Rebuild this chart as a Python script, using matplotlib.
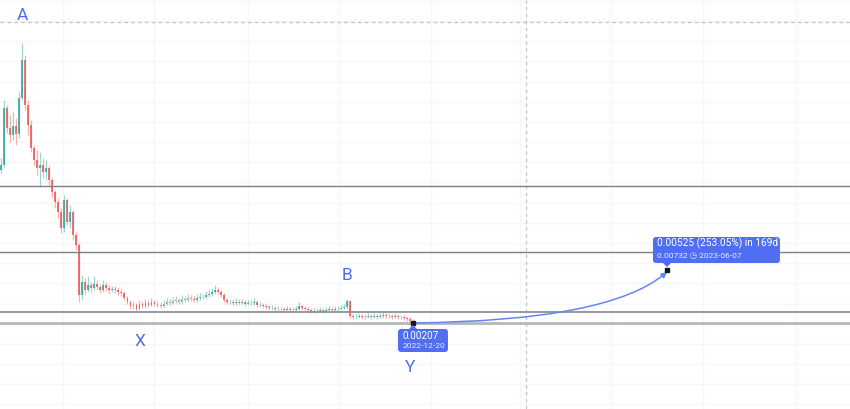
import numpy as np
import pandas as pd
import matplotlib
matplotlib.use("Agg")
import matplotlib.pyplot as plt
import matplotlib.dates as mdates
from matplotlib.patches import FancyBboxPatch, Polygon, FancyArrowPatch
from matplotlib.path import Path
from matplotlib.transforms import IdentityTransform

plt.rcParams['font.family'] = ['Roboto', 'DejaVu Sans']

# ---- price data: 2-day candles ----
dates = pd.date_range('2022-03-21', periods=138, freq='2D')
first_open = 0.01723
closes = [
    .01773, .02338, .02139, .02070, .02159, .02080, .02437, .02813, .02367, .02169,
    .01941, .01822, .01743, .01773, .01703, .01743, .01624, .01505, .01406, .01307,
    .01148, .01426, .01208, .01307, .01079, .00980, .00485, .00613, .00534, .00584,
    .00554, .00594, .00564, .00534, .00584, .00554, .00534, .00544, .00534, .00514,
    .00504, .00455, .00415, .00376, .00385, .00346, .00395, .00376, .00405, .00385,
    .00415, .00395, .00385, .00376, .00395, .00415, .00405, .00425, .00435, .00415,
    .00445, .00435, .00455, .00445, .00435, .00455, .00465, .00465, .00485, .00494,
    .00514, .00534, .00514, .00485, .00435, .00415, .00415, .00405, .00415, .00405,
    .00415, .00395, .00405, .00405, .00415, .00385, .00385, .00376, .00366, .00356,
    .00356, .00346, .00346, .00346, .00336, .00346, .00336, .00336, .00346, .00376,
    .00356, .00346, .00336, .00326, .00326, .00326, .00336, .00326, .00336, .00346,
    .00336, .00346, .00346, .00356, .00366, .00425, .00276, .00267, .00267, .00276,
    .00267, .00267, .00276, .00267, .00276, .00267, .00276, .00286, .00276, .00276,
    .00267, .00276, .00267, .00267, .00257, .00247, .00227, .00217,
]
highs = [
    .01842, .02417, .02367, .02268, .02298, .02239, .02496, .02982, .02863, .02417,
    .02219, .01971, .01921, .01902, .01842, .01822, .01773, .01644, .01525, .01446,
    .01347, .01475, .01446, .01376, .01327, .01109, .01000, .00683, .00653, .00673,
    .00613, .00673, .00633, .00594, .00633, .00613, .00584, .00574, .00574, .00564,
    .00544, .00524, .00475, .00435, .00425, .00405, .00435, .00425, .00445, .00435,
    .00455, .00435, .00425, .00415, .00435, .00455, .00445, .00465, .00475, .00455,
    .00485, .00475, .00494, .00485, .00475, .00494, .00504, .00494, .00524, .00534,
    .00554, .00584, .00564, .00534, .00504, .00455, .00445, .00445, .00455, .00445,
    .00445, .00435, .00435, .00435, .00455, .00435, .00415, .00405, .00395, .00385,
    .00385, .00376, .00376, .00366, .00366, .00376, .00366, .00366, .00376, .00415,
    .00385, .00376, .00366, .00356, .00356, .00356, .00366, .00356, .00366, .00376,
    .00366, .00376, .00376, .00385, .00395, .00445, .00435, .00296, .00296, .00306,
    .00296, .00296, .00306, .00296, .00306, .00296, .00306, .00316, .00306, .00306,
    .00296, .00306, .00296, .00286, .00286, .00276, .00267, .00247,
]
lows = [
    .01694, .01743, .02090, .02001, .02021, .01971, .02040, .02417, .02318, .02070,
    .01902, .01773, .01674, .01555, .01644, .01624, .01575, .01456, .01347, .01248,
    .01099, .01109, .01178, .01148, .01030, .00930, .00415, .00435, .00494, .00514,
    .00514, .00534, .00534, .00504, .00514, .00524, .00504, .00514, .00504, .00485,
    .00475, .00435, .00395, .00346, .00346, .00326, .00336, .00356, .00356, .00366,
    .00376, .00376, .00366, .00356, .00366, .00385, .00385, .00395, .00405, .00395,
    .00405, .00415, .00415, .00425, .00415, .00415, .00435, .00445, .00445, .00465,
    .00475, .00494, .00494, .00465, .00415, .00395, .00395, .00385, .00385, .00385,
    .00395, .00376, .00385, .00385, .00385, .00366, .00366, .00356, .00346, .00336,
    .00336, .00326, .00326, .00326, .00316, .00326, .00316, .00316, .00326, .00336,
    .00336, .00326, .00316, .00306, .00306, .00306, .00316, .00306, .00316, .00326,
    .00316, .00326, .00326, .00336, .00346, .00346, .00257, .00247, .00247, .00257,
    .00247, .00247, .00257, .00247, .00257, .00247, .00257, .00257, .00257, .00257,
    .00247, .00257, .00247, .00247, .00237, .00227, .00217, .00207,
]
opens = [first_open] + closes[:-1]

# horizontal support / resistance levels
levels = [0.01565, 0.00911, 0.00316, 0.00207]
level_colors = ['#7b7e86', '#7b7e86', '#8e9199', '#b4b7bd']
level_widths = [1.0, 1.0, 1.3, 2.0]

# price-range projection
low_date, low_price = '2022-12-20', 0.00207
target_date, target_price = '2023-06-07', 0.00732
change_abs, change_pct, change_days = 0.00525, 253.05, 169

# crosshair position
cross_date, cross_price = '2023-03-05', 0.03190

month_lines = ['2022-05-01', '2022-07-01', '2022-09-01', '2022-11-01', '2023-01-01',
               '2023-03-01', '2023-05-01', '2023-07-01', '2023-09-01']

UP, DOWN = '#26a69a', '#ef5350'
BLUE = '#4a6cf7'
BOX = '#4f6ef2'

fig = plt.figure(figsize=(8.5, 4.09), dpi=100)
ax = fig.add_axes([0, 0, 1, 1])
ax.set_facecolor('white')

x = mdates.date2num(dates)
o = np.array(opens); c = np.array(closes); h = np.array(highs); l = np.array(lows)
up = c >= o
cols = np.where(up, UP, DOWN)

ax.vlines(x, l, h, colors=cols, linewidth=0.9, alpha=0.45, zorder=3)
body_h = np.maximum(np.abs(c - o), 0.00004)
ax.bar(x, body_h, bottom=np.minimum(o, c), width=1.25, color=cols,
       linewidth=0, alpha=0.8, zorder=4)

x_low = mdates.date2num(pd.Timestamp(low_date))
x_tgt = mdates.date2num(pd.Timestamp(target_date))
ax.set_xlim(x_low - 274.8, x_low + 290.8)
ax.set_ylim(-0.006453, 0.034079)

# grid
ax.set_xticks(mdates.date2num(pd.to_datetime(month_lines)))
ax.set_yticks(np.arange(-0.006, 0.0341, 0.002))
ax.grid(True, color='#f5f6f8', linewidth=0.9, zorder=0)
ax.tick_params(length=0, labelbottom=False, labelleft=False)
for s in ax.spines.values():
    s.set_visible(False)

# crosshair
ax.axhline(cross_price, color='#c2c4c9', linewidth=0.9, dashes=(3, 2.5), zorder=2)
ax.axvline(mdates.date2num(pd.Timestamp(cross_date)), color='#c2c4c9',
           linewidth=0.9, dashes=(3, 2.5), zorder=2)

# levels
for lv, lc, lw in zip(levels, level_colors, level_widths):
    ax.axhline(lv, color=lc, linewidth=lw, zorder=5)

# projection curve (quadratic bezier)
ctrl = (x_tgt - 38, low_price + 0.0002)
curve = Path([(x_low, low_price), ctrl, (x_tgt, target_price - 0.0002)],
             [Path.MOVETO, Path.CURVE3, Path.CURVE3])
ax.add_patch(FancyArrowPatch(path=curve, arrowstyle='-|>', mutation_scale=8,
                             color='#6486f5', linewidth=1.1, zorder=6))
ax.plot([x_low, x_tgt], [low_price, target_price], 's', color='#131722',
        markersize=3.5, zorder=7)

# wave labels
lab = dict(color=BLUE, fontsize=12.5, ha='center', va='center',
           textcoords='offset pixels', zorder=8)
ax.annotate('A', (x[7], highs[7]), xytext=(0, 27), **lab)
ax.annotate('B', (x[115], highs[115]), xytext=(0, 23), **lab)
ax.annotate('X', (x[45], lows[45]), xytext=(3.5, -31), **lab)
ax.annotate('Y', (x_low, low_price), xytext=(-3, -45), **lab)

# info boxes drawn in pixel space around their anchors
ident = IdentityTransform()
px_low = ax.transData.transform((x_low, low_price))
px_tgt = ax.transData.transform((x_tgt, target_price))

def info_box(anchor, left, right, bottom, top, pointer_up):
    ax_, ay_ = anchor
    box = FancyBboxPatch((ax_ + left, ay_ + bottom), right - left, top - bottom,
                         boxstyle='round,pad=0,rounding_size=3', transform=ident,
                         facecolor=BOX, edgecolor='none', zorder=9)
    fig.add_artist(box)
    if pointer_up:
        tri = [(ax_ - 4, ay_ + top), (ax_ + 4, ay_ + top), (ax_, ay_ + top + 4)]
    else:
        tri = [(ax_ - 4, ay_ + bottom), (ax_ + 4, ay_ + bottom), (ax_, ay_ + bottom - 4)]
    fig.add_artist(Polygon(tri, closed=True, transform=ident, facecolor=BOX,
                           edgecolor='none', zorder=9))

info_box(px_low, -15, 35, -29, -6, True)
fig.text(px_low[0] - 10, px_low[1] - 13.5, f'{low_price:.5f}', transform=ident,
         color='white', fontsize=7.2, va='center', ha='left', zorder=10)
fig.text(px_low[0] - 10, px_low[1] - 23.5, low_date, transform=ident,
         color='#e8ecff', fontsize=6.0, va='center', ha='left', zorder=10)

info_box(px_tgt, -14, 113, 7, 33, False)
fig.text(px_tgt[0] - 10, px_tgt[1] + 26.5,
         f'{change_abs:.5f} ({change_pct:.2f}%) in {change_days}d', transform=ident,
         color='white', fontsize=7.3, va='center', ha='left', zorder=10)
fig.text(px_tgt[0] - 10, px_tgt[1] + 14,
         f'{target_price:.5f} \u25f7 {target_date}', transform=ident,
         color='#e8ecff', fontsize=6.0, va='center', ha='left', zorder=10)

fig.savefig('out.png', dpi=100)
